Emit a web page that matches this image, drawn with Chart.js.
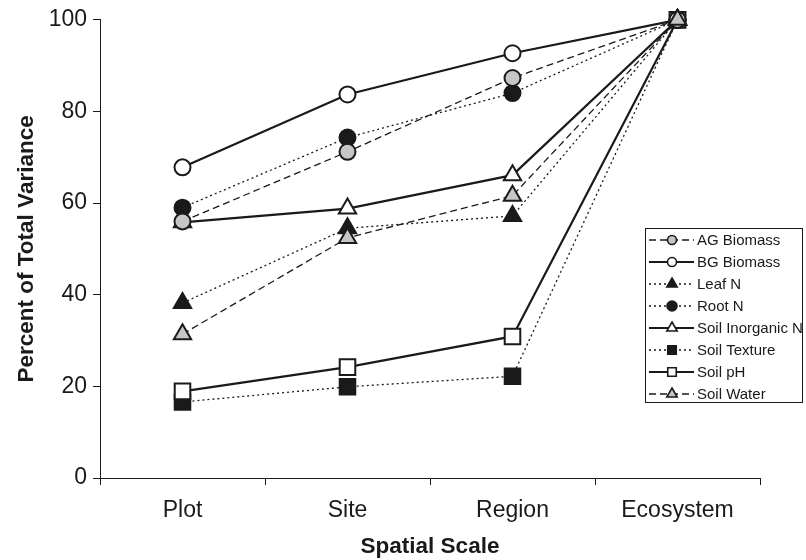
<!DOCTYPE html>
<html>
<head>
<meta charset="utf-8">
<script src="https://cdn.jsdelivr.net/npm/chart.js@4.4.1/dist/chart.umd.min.js"></script>
<style>
  html, body { margin: 0; padding: 0; background: #ffffff; }
  #wrap { position: relative; width: 806px; height: 560px; }
</style>
</head>
<body>
<div id="wrap"><canvas id="chart" width="806" height="560"></canvas></div>
<script>
// Spatial scales on the x axis
const categories = ['Plot', 'Site', 'Region', 'Ecosystem'];

// Cumulative percent of total variance per variable
const agBiomass      = [56.0, 71.2, 87.3, 100];
const bgBiomass      = [67.8, 83.7, 92.7, 100];
const leafN          = [38.2, 54.5, 57.2, 100];
const rootN          = [59.0, 74.3, 84.0, 100];
const soilInorganicN = [55.8, 58.8, 66.1, 100];
const soilTexture    = [16.6, 19.9, 22.2, 100];
const soilPH         = [18.9, 24.2, 30.9, 100];
const soilWater      = [31.4, 52.4, 61.6, 100];

// Y axis ticks
const yTicks = [0, 20, 40, 60, 80, 100];

const INK = '#1a1a1a';
const GREY = '#c6c6c6';
const WHITE = '#ffffff';
const DASHED = [7, 4];
const DOTTED = [2, 3];
const FONT = '"Liberation Sans", Arial, sans-serif';

function series(label, data, style) {
  const solid = style.dash.length === 0;
  return {
    label, data,
    borderColor: INK,
    borderWidth: solid ? 2.2 : 1.3,
    borderDash: style.dash,
    pointStyle: style.shape,
    pointRadius: style.radius,
    pointHoverRadius: style.radius,
    pointBackgroundColor: style.fill,
    pointBorderColor: INK,
    pointBorderWidth: 2,
    fill: false,
    tension: 0,
    clip: false,
    order: style.order,
    legendRadius: style.legendRadius
  };
}

const datasets = [
  series('AG Biomass', agBiomass, { dash: DASHED, shape: 'circle', radius: 8, fill: GREY, order: 1, legendRadius: 4.5 }),
  series('BG Biomass', bgBiomass, { dash: [], shape: 'circle', radius: 8, fill: WHITE, order: 0, legendRadius: 4.5 }),
  series('Leaf N', leafN, { dash: DOTTED, shape: 'triangle', radius: 10, fill: INK, order: 5, legendRadius: 6 }),
  series('Root N', rootN, { dash: DOTTED, shape: 'circle', radius: 8, fill: INK, order: 4, legendRadius: 5 }),
  series('Soil Inorganic N', soilInorganicN, { dash: [], shape: 'triangle', radius: 10, fill: WHITE, order: 2, legendRadius: 6 }),
  series('Soil Texture', soilTexture, { dash: DOTTED, shape: 'rect', radius: 11, fill: INK, order: 6, legendRadius: 6 }),
  series('Soil pH', soilPH, { dash: [], shape: 'rect', radius: 11, fill: WHITE, order: 3, legendRadius: 6 }),
  series('Soil Water', soilWater, { dash: DASHED, shape: 'triangle', radius: 10, fill: GREY, order: -1, legendRadius: 6 })
];

function drawMarker(ctx, shape, x, y, r, fill) {
  ctx.beginPath();
  if (shape === 'circle') {
    ctx.arc(x, y, r, 0, Math.PI * 2);
  } else if (shape === 'triangle') {
    ctx.moveTo(x, y - r);
    ctx.lineTo(x + r * Math.sin(2 * Math.PI / 3), y - r * Math.cos(2 * Math.PI / 3));
    ctx.lineTo(x + r * Math.sin(4 * Math.PI / 3), y - r * Math.cos(4 * Math.PI / 3));
    ctx.closePath();
  } else {
    const s = r * Math.SQRT1_2;
    ctx.rect(x - s, y - s, 2 * s, 2 * s);
  }
  ctx.fillStyle = fill;
  ctx.fill();
  ctx.setLineDash([]);
  ctx.lineWidth = 1.6;
  ctx.strokeStyle = INK;
  ctx.stroke();
}

// Boxed key: a line sample with its marker, then the series name
const boxedLegend = {
  id: 'boxedLegend',
  afterDraw(chart) {
    const ctx = chart.ctx;
    const box = { x: 645.5, y: 228.5, w: 157, h: 174 };
    ctx.save();
    ctx.fillStyle = WHITE;
    ctx.fillRect(box.x, box.y, box.w, box.h);
    ctx.lineWidth = 1;
    ctx.strokeStyle = INK;
    ctx.setLineDash([]);
    ctx.strokeRect(box.x, box.y, box.w, box.h);
    const rowH = 22;
    chart.data.datasets.forEach((ds, i) => {
      const cy = box.y + 11.5 + i * rowH;
      ctx.beginPath();
      ctx.setLineDash(ds.borderDash);
      ctx.lineWidth = ds.borderDash.length ? 1.3 : 2;
      ctx.strokeStyle = INK;
      ctx.moveTo(649, cy);
      ctx.lineTo(694, cy);
      ctx.stroke();
      drawMarker(ctx, ds.pointStyle, 672, cy, ds.legendRadius, ds.pointBackgroundColor);
      ctx.fillStyle = INK;
      ctx.font = '15px ' + FONT;
      ctx.textAlign = 'left';
      ctx.textBaseline = 'middle';
      ctx.fillText(ds.label, 697, cy + 0.5);
    });
    ctx.restore();
  }
};

new Chart(document.getElementById('chart'), {
  type: 'line',
  data: { labels: categories, datasets },
  options: {
    responsive: false,
    animation: false,
    layout: { padding: { top: 19, right: 46, left: 0, bottom: 0 } },
    plugins: { legend: { display: false }, tooltip: { enabled: false } },
    scales: {
      x: {
        type: 'category',
        offset: true,
        afterFit(scale) { scale.height = 82; },
        grid: { offset: true, drawOnChartArea: false, drawTicks: true, tickLength: 7, color: INK, lineWidth: 1 },
        border: { display: true, color: INK, width: 1 },
        ticks: { color: INK, padding: 12, font: { family: FONT, size: 23 } },
        title: {
          display: true, text: 'Spatial Scale', color: INK,
          padding: { top: 0, bottom: 0 },
          font: { family: FONT, size: 22.5, weight: 'bold' }
        }
      },
      y: {
        min: 0, max: 100,
        afterFit(scale) { scale.width = 100; },
        afterBuildTicks(scale) { scale.ticks = yTicks.map(v => ({ value: v })); },
        grid: { drawOnChartArea: false, drawTicks: true, tickLength: 7, color: INK, lineWidth: 1 },
        border: { display: true, color: INK, width: 1 },
        ticks: { color: INK, padding: 6, font: { family: FONT, size: 23 } },
        title: {
          display: true, text: 'Percent of Total Variance', color: INK,
          padding: { top: 13, bottom: 0 },
          font: { family: FONT, size: 22.5, weight: 'bold' }
        }
      }
    }
  },
  plugins: [boxedLegend]
});
</script>
</body>
</html>
